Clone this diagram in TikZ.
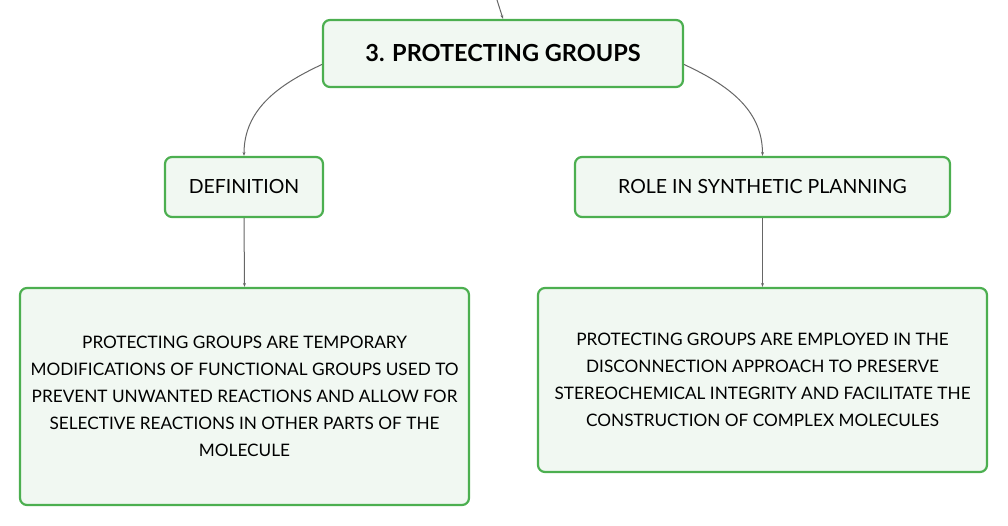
\documentclass[tikz,border=0pt]{standalone}
\usepackage{fontspec}
\setmainfont{Lato}
\usetikzlibrary{arrows.meta}
\definecolor{boxgreen}{HTML}{4CAF50}
\definecolor{boxfill}{HTML}{F1F8F2}
\definecolor{linkgray}{HTML}{666666}
\tikzset{
	topic/.style={draw=boxgreen, line width=2.2pt, fill=boxfill, rounded corners=7pt, align=center, inner sep=0pt},
	link/.style={draw=linkgray, line width=1pt, -{Stealth[length=4pt,width=3pt]}}
}
\begin{document}
\begin{tikzpicture}[x=1pt,y=1pt]
			%%%%% START %%%%%
			
			\useasboundingbox (0, 0) rectangle (1008, 526);
			
			\node[topic, minimum width=360pt, minimum height=67pt, font=\fontsize{23.5}{27}\selectfont\bfseries] (protect) at (503, 472.5) {3. PROTECTING GROUPS};
			
			\node[topic, minimum width=158pt, minimum height=60pt, font=\fontsize{19.5}{23}\selectfont] (defn) at (244, 339) {DEFINITION};
			\node[topic, minimum width=375pt, minimum height=60pt, font=\fontsize{19.5}{23}\selectfont] (role) at (762.5, 339) {ROLE IN SYNTHETIC PLANNING};
			
			\node[topic, minimum width=449pt, minimum height=217pt, font=\fontsize{17.2}{27}\selectfont] (defntext) at (244.5, 129.5) {PROTECTING GROUPS ARE TEMPORARY\\MODIFICATIONS OF FUNCTIONAL GROUPS USED TO\\PREVENT UNWANTED REACTIONS AND ALLOW FOR\\SELECTIVE REACTIONS IN OTHER PARTS OF THE\\MOLECULE};
			\node[topic, minimum width=449pt, minimum height=184pt, font=\fontsize{17.2}{27}\selectfont] (roletext) at (762.5, 146) {PROTECTING GROUPS ARE EMPLOYED IN THE\\DISCONNECTION APPROACH TO PRESERVE\\STEREOCHEMICAL INTEGRITY AND FACILITATE THE\\CONSTRUCTION OF COMPLEX MOLECULES};
			
			\coordinate (above) at (497, 526);
			\draw[link] (above) -- (protect.north);
			
			\draw[link] ([yshift=-11pt]protect.west) to[out=205, in=90] (defn.north);
			\draw[link] ([yshift=-11pt]protect.east) to[out=-25, in=90] (role.north);
			
			\draw[link] (defn.south) -- (defntext.north);
			\draw[link] (role.south) -- (roletext.north);
			
			%%%%% END %%%%%
\end{tikzpicture}
\end{document}
